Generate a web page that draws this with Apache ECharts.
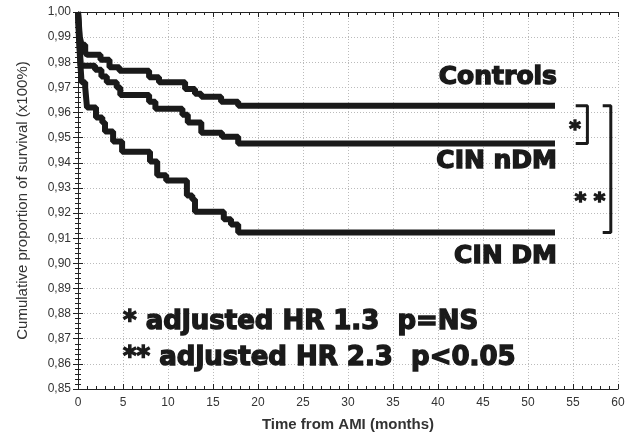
<!DOCTYPE html>
<html><head><meta charset="utf-8">
<script src="https://cdn.jsdelivr.net/npm/echarts@6/dist/echarts.min.js"></script>
<style>html,body{margin:0;padding:0;background:#fff}#c{width:629px;height:437px}</style>
</head><body><div id="c"></div>
<script>
// months since AMI, cumulative survival
var controls = [[0,1.0],[0.1,0.995],[0.2,0.99],[0.4,0.987],[0.8,0.984],[1.0,0.983],[2.5,0.981],[3.5,0.978],[4.6,0.9766],[7.9,0.974],[9.0,0.972],[11.9,0.9694],[13.0,0.9675],[13.7,0.9663],[15.9,0.9643],[17.8,0.9627],[53,0.9627]];
var cinNDM = [[0,1.0],[0.15,0.99],[0.3,0.9786],[1.9,0.977],[2.6,0.9743],[3.2,0.972],[4.3,0.970],[4.7,0.967],[7.9,0.9643],[8.6,0.9615],[11.6,0.9591],[12.2,0.956],[13.7,0.952],[16.0,0.9504],[17.8,0.9477],[53,0.9477]];
var cinDM = [[0,1.0],[0.1,0.99],[0.25,0.98],[0.4,0.972],[0.8,0.970],[1.0,0.962],[2.0,0.958],[2.7,0.956],[3.0,0.9525],[3.9,0.9485],[4.9,0.9444],[8.0,0.9405],[8.8,0.935],[9.8,0.933],[12.1,0.927],[12.7,0.9254],[13.0,0.9205],[16.2,0.9175],[17.0,0.9155],[17.8,0.9123],[53,0.9123]];
var groupLabels = ['Controls','CIN nDM','CIN DM'];
var noteLines = ['* adjusted HR 1.3  p=NS','** adjusted HR 2.3  p<0.05'];
var xTicks = {min:0,max:60,interval:5};
var yTicks = {min:0.85,max:1.0,interval:0.01};

var chart = echarts.init(document.getElementById('c'));
var lastC = controls[controls.length-1][1], lastN = cinNDM[cinNDM.length-1][1], lastD = cinDM[cinDM.length-1][1];
var bracket1 = [[55.3,lastC],[56.6,lastC],[56.6,lastN],[55.3,lastN]];
var bracket2 = [[58.3,lastC],[59.2,lastC],[59.2,lastD],[58.3,lastD]];
function heavy(text,size,x,y,align){
  return {type:'text',x:x,y:y,z:10,style:{text:text,fontFamily:'DejaVu Sans',fontWeight:'bold',fontSize:size,
    fill:'#1a1a1a',stroke:'#1a1a1a',lineWidth:1.4,align:align||'left',verticalAlign:'middle'}};
}
var lineStyle = {color:'#1a1a1a',width:6};
function axisCommon(){return {
  axisLine:{show:true,lineStyle:{color:'#222',width:1}},
  axisTick:{show:true,inside:true,length:5,lineStyle:{color:'#222'}},
  minorTick:{show:true,splitNumber:5,length:3,lineStyle:{color:'#222'}}
};}
var opt = {
  animation:false,
  grid:{left:78,right:11,top:12,bottom:47},
  xAxis:[Object.assign({type:'value',min:xTicks.min,max:xTicks.max,interval:xTicks.interval,
    name:'Time from AMI (months)',nameLocation:'middle',nameGap:28,
    nameTextStyle:{fontFamily:'Liberation Sans',fontWeight:'bold',fontSize:15,color:'#333'},
    axisLabel:{fontFamily:'Liberation Sans Narrow, Liberation Sans',fontSize:12,color:'#333',margin:8},
    splitLine:{show:true,lineStyle:{color:'#bbb',type:[1,2],width:1}}},axisCommon()),
    Object.assign({type:'value',position:'top',min:xTicks.min,max:xTicks.max,interval:xTicks.interval,axisLabel:{show:false},splitLine:{show:false}},axisCommon())],
  yAxis:[Object.assign({type:'value',min:yTicks.min,max:yTicks.max,interval:yTicks.interval,
    name:'Cumulative proportion of survival (x100%)',nameLocation:'middle',nameGap:48,
    nameTextStyle:{fontFamily:'Liberation Sans',fontSize:15,color:'#333'},
    axisLabel:{fontFamily:'Liberation Sans Narrow, Liberation Sans',fontSize:12,color:'#333',margin:7,
      formatter:function(v){return v.toFixed(2).replace('.',',');}},
    splitLine:{show:true,lineStyle:{color:'#bbb',type:[1,2],width:1}}},axisCommon()),
    Object.assign({type:'value',position:'right',min:yTicks.min,max:yTicks.max,interval:yTicks.interval,axisLabel:{show:false},splitLine:{show:false}},axisCommon())],
  series:[
    {type:'line',step:'end',data:controls,symbol:'none',lineStyle:lineStyle,z:5},
    {type:'line',step:'end',data:cinNDM,symbol:'none',lineStyle:lineStyle,z:5},
    {type:'line',step:'end',data:cinDM,symbol:'none',lineStyle:lineStyle,z:5},
    {type:'line',data:bracket1,symbol:'none',lineStyle:{color:'#1a1a1a',width:3}},
    {type:'line',data:bracket2,symbol:'none',lineStyle:{color:'#1a1a1a',width:3}}
  ],
  graphic:[
    heavy(groupLabels[0],25,557,77,'right'),
    heavy(groupLabels[1],25,557,161,'right'),
    heavy(groupLabels[2],25,557,256,'right'),
    heavy(noteLines[0],26,123,322,'left'),
    heavy(noteLines[1],26,123,358,'left'),
    heavy('*',22,575,130,'center'),
    heavy('* *',22,590,202,'center')
  ]
};
chart.setOption(opt);
</script></body></html>
